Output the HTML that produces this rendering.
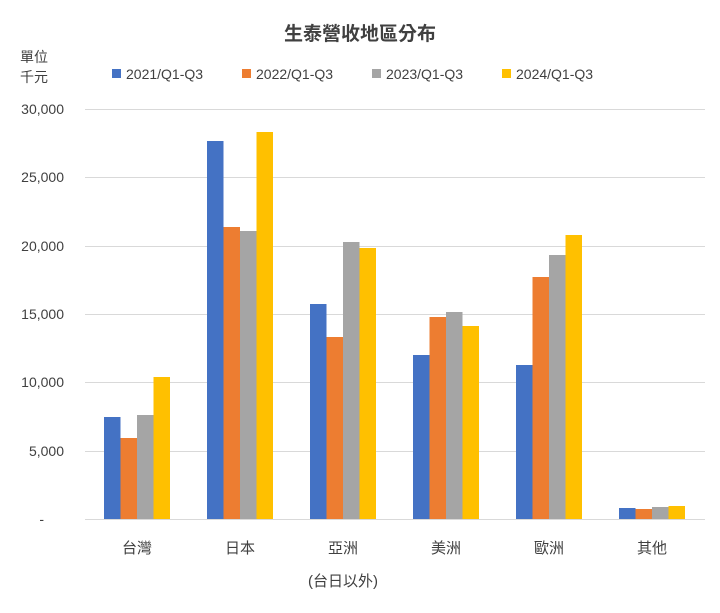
<!DOCTYPE html>
<html><head><meta charset="utf-8"><style>
body{margin:0;background:#fff;}
svg text{font-family:"Liberation Sans","Noto Sans CJK TC",sans-serif;fill:#404040;}
</style></head><body>
<svg width="720" height="608" xmlns="http://www.w3.org/2000/svg">
<rect width="720" height="608" fill="#fff"/>
<text x="360" y="40" font-size="19" text-anchor="middle" font-weight="bold" style="fill:#404040">生泰營收地區分布</text>
<text x="20" y="62" font-size="14">單位</text>
<text x="20" y="82" font-size="14">千元</text>
<g font-size="14">
<rect x="112" y="69" width="9" height="9" fill="#4472C4"/><text x="126" y="79">2021/Q1-Q3</text>
<rect x="242" y="69" width="9" height="9" fill="#ED7D31"/><text x="256" y="79">2022/Q1-Q3</text>
<rect x="372" y="69" width="9" height="9" fill="#A5A5A5"/><text x="386" y="79">2023/Q1-Q3</text>
<rect x="502" y="69" width="9" height="9" fill="#FFC000"/><text x="516" y="79">2024/Q1-Q3</text>
</g>
<g stroke="#d9d9d9" stroke-width="1">
<line x1="85" x2="705" y1="109.5" y2="109.5"/>
<line x1="85" x2="705" y1="177.5" y2="177.5"/>
<line x1="85" x2="705" y1="246.5" y2="246.5"/>
<line x1="85" x2="705" y1="314.5" y2="314.5"/>
<line x1="85" x2="705" y1="382.5" y2="382.5"/>
<line x1="85" x2="705" y1="451.5" y2="451.5"/>
<line x1="85" x2="705" y1="519.5" y2="519.5"/>
</g>
<g font-size="14" text-anchor="end">
<text x="64" y="114">30,000</text>
<text x="64" y="182">25,000</text>
<text x="64" y="251">20,000</text>
<text x="64" y="319">15,000</text>
<text x="64" y="387">10,000</text>
<text x="64" y="456">5,000</text>
<text x="44" y="524">-</text>
</g>
<g id="bars"></g>
<g font-size="15" text-anchor="middle">
<text x="137" y="553">台灣</text>
<text x="240" y="553">日本</text>
<text x="343" y="553">亞洲</text>
<text x="446" y="553">美洲</text>
<text x="549" y="553">歐洲</text>
<text x="652" y="553">其他</text>
<text x="343" y="586">(台日以外)</text>
</g>
<g>
<!-- 台灣 -->
<rect x="104" y="417" width="16.5" height="102" fill="#4472C4"/>
<rect x="120.5" y="438" width="16.5" height="81" fill="#ED7D31"/>
<rect x="137" y="415" width="16.5" height="104" fill="#A5A5A5"/>
<rect x="153.5" y="377" width="16.5" height="142" fill="#FFC000"/>
<!-- 日本 -->
<rect x="207" y="141" width="16.5" height="378" fill="#4472C4"/>
<rect x="223.5" y="227" width="16.5" height="292" fill="#ED7D31"/>
<rect x="240" y="231" width="16.5" height="288" fill="#A5A5A5"/>
<rect x="256.5" y="132" width="16.5" height="387" fill="#FFC000"/>
<!-- 亞洲 -->
<rect x="310" y="304" width="16.5" height="215" fill="#4472C4"/>
<rect x="326.5" y="337" width="16.5" height="182" fill="#ED7D31"/>
<rect x="343" y="242" width="16.5" height="277" fill="#A5A5A5"/>
<rect x="359.5" y="248" width="16.5" height="271" fill="#FFC000"/>
<!-- 美洲 -->
<rect x="413" y="355" width="16.5" height="164" fill="#4472C4"/>
<rect x="429.5" y="317" width="16.5" height="202" fill="#ED7D31"/>
<rect x="446" y="312" width="16.5" height="207" fill="#A5A5A5"/>
<rect x="462.5" y="326" width="16.5" height="193" fill="#FFC000"/>
<!-- 歐洲 -->
<rect x="516" y="365" width="16.5" height="154" fill="#4472C4"/>
<rect x="532.5" y="277" width="16.5" height="242" fill="#ED7D31"/>
<rect x="549" y="255" width="16.5" height="264" fill="#A5A5A5"/>
<rect x="565.5" y="235" width="16.5" height="284" fill="#FFC000"/>
<!-- 其他 -->
<rect x="619" y="508" width="16.5" height="11" fill="#4472C4"/>
<rect x="635.5" y="509" width="16.5" height="10" fill="#ED7D31"/>
<rect x="652" y="507" width="16.5" height="12" fill="#A5A5A5"/>
<rect x="668.5" y="506" width="16.5" height="13" fill="#FFC000"/>
</g>
</svg>
</body></html>
